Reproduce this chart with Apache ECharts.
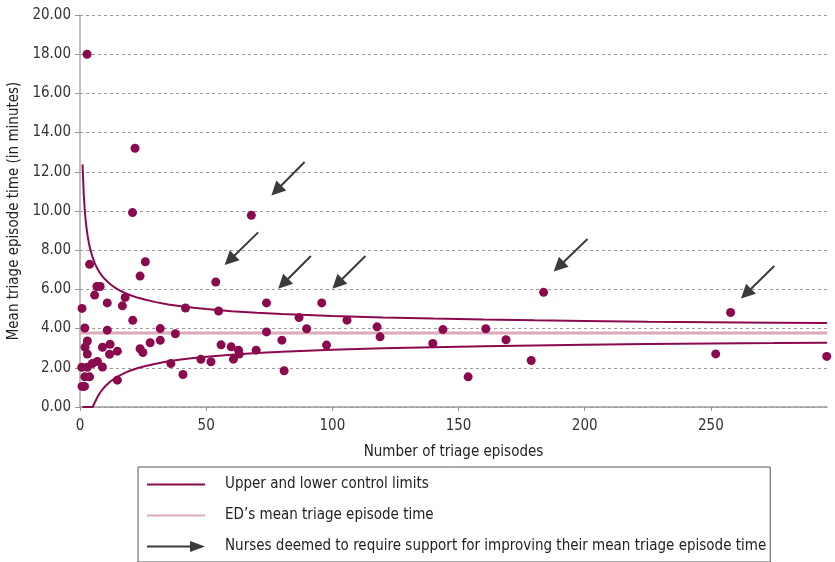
<!DOCTYPE html>
<html><head><meta charset="utf-8">
<script src="https://cdn.jsdelivr.net/npm/echarts@6/dist/echarts.min.js"></script>
<style>html,body{margin:0;padding:0;background:#fff}#c{width:835px;height:562px}</style>
</head><body><div id="c"></div>
<script>
// Nurse-level data: number of triage episodes and mean triage episode time (minutes)
const nurseEpisodes = [2.8, 21.8, 20.8, 67.9, 3.8, 25.9, 23.8, 6.7, 8.0, 5.8, 10.8, 17.9, 16.8, 0.8, 41.8, 20.9, 1.9, 10.8, 31.8, 37.8,
  2.9, 2.0, 2.9, 8.9, 11.9, 11.7, 14.8, 23.8, 24.9, 27.8, 31.8, 36.0, 40.8, 0.7, 2.9, 4.9, 6.9, 8.9, 1.9, 3.8,
  0.8, 1.8, 14.8, 47.9, 51.9, 53.8, 54.9, 55.9, 59.9, 60.8, 62.8, 63.1, 69.8, 73.9, 73.9, 80.0, 80.9, 86.8, 89.8, 95.8,
  97.7, 105.8, 117.7, 118.9, 139.8, 143.8, 153.8, 160.8, 168.8, 178.8, 183.7, 251.9, 257.8, 295.9];
const nurseMeanTimes = [18.0, 13.2, 9.92, 9.78, 7.28, 7.41, 6.68, 6.15, 6.15, 5.71, 5.31, 5.59, 5.16, 5.03, 5.05, 4.42, 4.03, 3.92, 4.00, 3.74,
  3.37, 3.05, 2.70, 3.05, 3.20, 2.69, 2.85, 2.97, 2.78, 3.28, 3.40, 2.22, 1.66, 2.03, 2.03, 2.22, 2.32, 2.04, 1.54, 1.54,
  1.05, 1.05, 1.37, 2.43, 2.31, 6.38, 4.90, 3.17, 3.07, 2.44, 2.90, 2.70, 2.90, 5.31, 3.83, 3.41, 1.85, 4.56, 3.99, 5.31,
  3.16, 4.43, 4.09, 3.58, 3.24, 3.95, 1.54, 3.99, 3.43, 2.37, 5.85, 2.71, 4.82, 2.58];

// Control limits read along the funnel
const limitEpisodes = [1, 1.5, 2, 2.5, 3, 3.5, 4, 5, 6, 7, 8, 9, 10, 12, 14, 16, 18, 20, 23, 26, 30, 35, 40, 45, 50,
  60, 70, 80, 90, 100, 120, 140, 160, 180, 200, 225, 250, 275, 296];
const upperLimit = [12.38, 10.80, 9.86, 9.22, 8.75, 8.38, 8.08, 7.63, 7.29, 7.03, 6.82, 6.65, 6.50, 6.26, 6.08, 5.93, 5.81, 5.70, 5.57, 5.47, 5.35, 5.23, 5.14, 5.06, 5.00,
  4.89, 4.81, 4.74, 4.69, 4.64, 4.57, 4.51, 4.46, 4.42, 4.39, 4.35, 4.32, 4.30, 4.28];
const lowerLimit = [0, 0, 0, 0, 0, 0, 0, 0, 0.27, 0.53, 0.74, 0.91, 1.06, 1.30, 1.48, 1.63, 1.75, 1.86, 1.99, 2.09, 2.21, 2.33, 2.42, 2.50, 2.56,
  2.67, 2.75, 2.82, 2.87, 2.92, 3.00, 3.05, 3.10, 3.14, 3.17, 3.21, 3.24, 3.26, 3.28];

// ED mean
const meanEpisodes = [0, 296];
const edMeanTime = 3.78;

// Arrows (from -> to)
const arrowFromX = [89.0, 70.6, 91.5, 113.1, 201.1, 275.1];
const arrowFromY = [12.50, 8.91, 7.70, 7.70, 8.57, 7.19];
const arrowToX = [77.8, 59.3, 80.5, 102.0, 189.7, 263.9];
const arrowToY = [11.05, 7.49, 6.29, 6.29, 7.16, 5.78];

const xTicks = [0, 50, 100, 150, 200, 250];
const xMax = 296;
const yMin = 0, yMax = 20, yStep = 2;

const legendNames = ['Upper and lower control limits', "ED\u2019s mean triage episode time",
  'Nurses deemed to require support for improving their mean triage episode time'];

const FONT = "'DejaVu Sans Condensed', 'Liberation Sans Narrow', sans-serif";
const FS = 15;
const BERRY = '#8b0a4e';
const PINK = '#dcaaba';
const ARROW = '#3b3b3b';

const pairs = (xs, ys) => xs.map((x, i) => [x, ys[i]]);

const chart = echarts.init(document.getElementById('c'), null, {renderer: 'canvas'});
chart.setOption({
  animation: false,
  backgroundColor: '#fff',
  textStyle: {fontFamily: FONT},
  grid: {left: 80, right: 8, top: 15, bottom: 155, outerBoundsMode: 'none', containLabel: false},
  xAxis: {
    type: 'value', min: 0, max: xMax, interval: 50,
    name: 'Number of triage episodes', nameLocation: 'middle', nameGap: 38,
    nameTextStyle: {fontFamily: FONT, fontSize: FS, color: '#222'},
    axisLine: {show: true, lineStyle: {color: '#999', width: 1.5}},
    axisTick: {show: true, length: 4, lineStyle: {color: '#999'}, customValues: xTicks},
    axisLabel: {customValues: xTicks, fontFamily: FONT, fontSize: FS, color: '#333', margin: 12},
    splitLine: {show: false}
  },
  yAxis: {
    type: 'value', min: yMin, max: yMax, interval: yStep,
    name: 'Mean triage episode time (in minutes)', nameLocation: 'middle', nameGap: 51,
    nameTextStyle: {fontFamily: FONT, fontSize: FS, color: '#222'},
    axisLine: {show: true, lineStyle: {color: '#aaa', width: 1.5}},
    axisTick: {show: true, length: 5, lineStyle: {color: '#999'}},
    axisLabel: {formatter: v => v.toFixed(2), fontFamily: FONT, fontSize: FS, color: '#333', margin: 9},
    splitLine: {show: true, lineStyle: {color: '#999', type: [3, 3], width: 1}}
  },
  legend: {
    orient: 'vertical', left: 138, top: 467,
    padding: [10, 4, 8, 9], itemGap: 16,
    itemWidth: 73, itemHeight: 14,
    borderColor: '#555', borderWidth: 1,
    selectedMode: false,
    itemStyle: {borderWidth: 0},
    textStyle: {fontFamily: FONT, fontSize: FS, color: '#222'},
    data: [
      {name: legendNames[0], icon: 'path://M0,0 M73,14 M0,6 L58,6 L58,8 L0,8 Z', itemStyle: {color: BERRY, borderWidth: 0}},
      {name: legendNames[1], icon: 'path://M0,0 M73,14 M0,6 L58,6 L58,8 L0,8 Z', itemStyle: {color: PINK, borderWidth: 0}},
      {name: legendNames[2], icon: 'path://M0,0 M73,14 M0,6 L45,6 L45,8 L0,8 Z M43,1.5 L58,7 L43,12.5 Z', itemStyle: {color: ARROW, borderWidth: 0}}
    ]
  },
  series: [
    {
      name: legendNames[1], type: 'line', data: pairs(meanEpisodes, [edMeanTime, edMeanTime]),
      showSymbol: false, symbol: 'none', lineStyle: {color: PINK, width: 3}, itemStyle: {color: PINK}, z: 2, silent: true
    },
    {
      name: legendNames[0], type: 'line', data: pairs(limitEpisodes, upperLimit),
      showSymbol: false, symbol: 'none', lineStyle: {color: BERRY, width: 2}, itemStyle: {color: BERRY}, z: 3, silent: true
    },
    {
      name: legendNames[0], type: 'line', data: pairs(limitEpisodes, lowerLimit),
      showSymbol: false, symbol: 'none', lineStyle: {color: BERRY, width: 2}, itemStyle: {color: BERRY}, z: 3, silent: true
    },
    {
      name: 'Nurses', type: 'scatter', data: pairs(nurseEpisodes, nurseMeanTimes),
      symbolSize: 9, itemStyle: {color: BERRY, opacity: 1}, z: 5
    },
    {
      name: legendNames[2], type: 'lines', coordinateSystem: 'cartesian2d',
      data: arrowFromX.map((x, i) => ({coords: [[x, arrowFromY[i]], [arrowToX[i], arrowToY[i]]]})),
      symbol: ['none', 'triangle'], symbolSize: [0, 14],
      lineStyle: {color: ARROW, width: 2, opacity: 1}, itemStyle: {color: ARROW}, z: 6, silent: true
    }
  ]
});
</script>
</body></html>
